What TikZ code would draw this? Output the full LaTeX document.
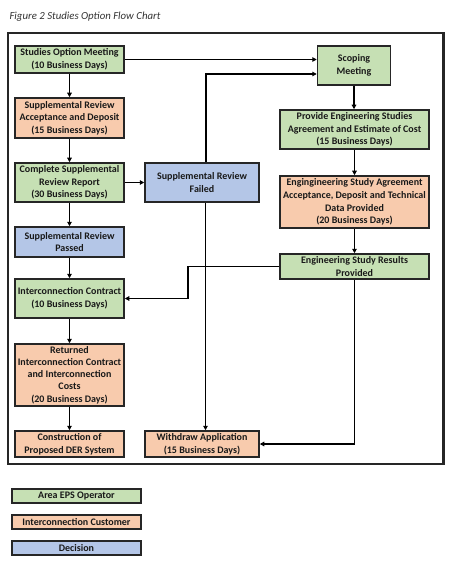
\documentclass[tikz,border=0pt]{standalone}
\usepackage{fontspec}
\setmainfont{Carlito}
\usetikzlibrary{arrows.meta,calc}
\definecolor{opgreen}{HTML}{C6E0B4}
\definecolor{custorange}{HTML}{F8CBAD}
\definecolor{decblue}{HTML}{B4C6E7}
\definecolor{boxline}{HTML}{262626}
\definecolor{titlegray}{HTML}{333333}
\tikzset{
  box/.style={draw=boxline, line width=1.5pt, inner sep=0pt, align=center,
    font=\fontsize{10}{12.6}\selectfont\bfseries, text=black!90},
  gbox/.style={box, fill=opgreen},
  obox/.style={box, fill=custorange},
  bbox/.style={box, fill=decblue},
  arr/.style={line width=1.8pt, draw=black, -{Triangle[length=4.5pt,width=4.5pt]}},
}
\begin{document}
\begin{tikzpicture}[x=1pt,y=-1pt]
\useasboundingbox (0,0) rectangle (453,561);
\node[anchor=west, font=\fontsize{10.8}{12}\selectfont\itshape, text=titlegray] (title) at (6,17) {Figure 2 Studies Option Flow Chart};
\draw[line width=2.2pt, draw=boxline] (8,33) rectangle (443.5,464);
% left column
\node[gbox, minimum width=109pt, minimum height=27pt] (som) at (69.5,59.5) {Studies Option Meeting\\(10 Business Days)};
\node[obox, minimum width=109pt, minimum height=40pt] (sra) at (69.5,118) {Supplemental Review\\Acceptance and Deposit\\(15 Business Days)};
\node[gbox, minimum width=109pt, minimum height=39pt] (csr) at (69.5,182.5) {Complete Supplemental\\Review Report\\(30 Business Days)};
\node[bbox, minimum width=109pt, minimum height=30pt] (srp) at (69.5,242) {Supplemental Review\\Passed};
\node[gbox, minimum width=109pt, minimum height=39pt] (ic) at (69.5,298.5) {Interconnection Contract\\(10 Business Days)};
\node[obox, minimum width=109pt, minimum height=62pt, font=\fontsize{10}{12.2}\selectfont\bfseries] (ric) at (69.5,375) {Returned\\Interconnection Contract\\and Interconnection\\Costs\\(20 Business Days)};
\node[obox, minimum width=109pt, minimum height=26pt] (cons) at (69.5,444) {Construction of\\Proposed DER System};
% middle column
\node[bbox, minimum width=114pt, minimum height=39pt] (srf) at (202,182.5) {Supplemental Review\\Failed};
\node[obox, minimum width=114pt, minimum height=26pt] (wd) at (202,444) {Withdraw Application\\(15 Business Days)};
% right column
\node[gbox, minimum width=73pt, minimum height=39pt] (scope) at (354,65.5) {Scoping\\Meeting};
\node[gbox, minimum width=149pt, minimum height=39pt] (pes) at (354.5,129.5) {Provide Engineering Studies\\Agreement and Estimate of Cost\\(15 Business Days)};
\node[obox, minimum width=149pt, minimum height=52pt] (esa) at (354.5,202) {Engingineering Study Agreement\\Acceptance, Deposit and Technical\\Data Provided\\(20 Business Days)};
\node[gbox, minimum width=149pt, minimum height=25pt] (esr) at (354.5,266.5) {Engineering Study Results\\Provided};
% legend
\node[gbox, minimum width=129pt, minimum height=14pt] (leg1) at (76.5,496) {Area EPS Operator};
\node[obox, minimum width=129pt, minimum height=14pt] (leg2) at (76.5,522) {Interconnection Customer};
\node[bbox, minimum width=129pt, minimum height=14pt] (leg3) at (76.5,548) {Decision};
% connectors
\draw[arr] (som.south) -- (sra.north);
\draw[arr] (sra.south) -- (csr.north);
\draw[arr] (csr.south) -- (srp.north);
\draw[arr] (srp.south) -- (ic.north);
\draw[arr] (ic.south) -- (ric.north);
\draw[arr] (ric.south) -- (cons.north);
\draw[arr] (som.east) -- (som.east -| scope.west);
\draw[arr] ([xshift=4pt]srf.north) |- ([yshift=-8.5pt]scope.west);
\draw[arr] (csr.east) -- (srf.west);
\draw[arr] ([xshift=3.5pt]srf.south) -- ([xshift=3.5pt]wd.north);
\draw[arr] (scope.south) -- (scope.south |- pes.north);
\draw[arr] (pes.south) -- (esa.north);
\draw[arr] (esa.south) -- (esr.north);
\coordinate (jx) at (188,0);
\draw[arr] (esr.west) -| (jx |- ic.east) -- (ic.east);
\draw[arr] (esr.south) |- (wd.east);
\end{tikzpicture}
\end{document}
